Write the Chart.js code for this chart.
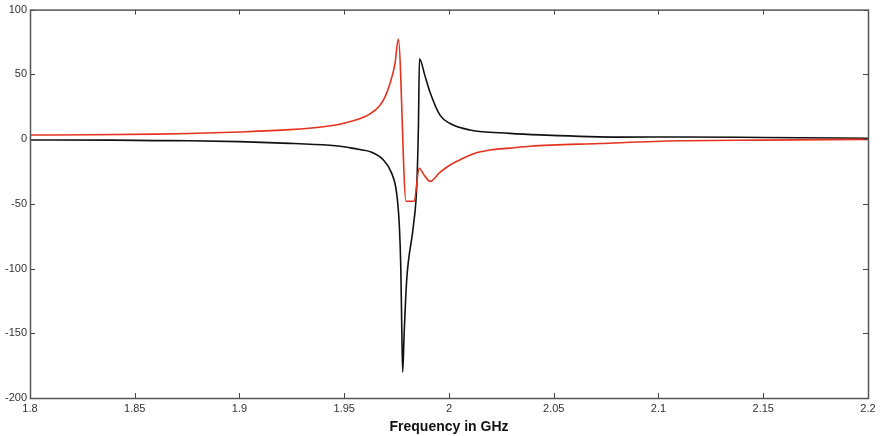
<!DOCTYPE html>
<html>
<head>
<meta charset="utf-8">
<script src="https://cdn.jsdelivr.net/npm/chart.js@4/dist/chart.umd.min.js"></script>
<style>
	body { margin: 0; background: #fff; }
	#wrap { width: 881px; height: 436px; }
</style>
</head>
<body>
<div id="wrap"><canvas id="chart-resp" width="881" height="436"></canvas></div>
<script>
// red trace (frequency in GHz / value)
const redFreq = [1.80, 1.83, 1.86, 1.876, 1.90, 1.924, 1.94, 1.948, 1.953, 1.958, 1.9623, 1.9665, 1.9693, 1.9718, 1.9742, 1.9758,
	1.9795, 1.9833, 1.9858, 1.988, 1.991, 1.9955, 2.0005, 2.0053, 2.0115, 2.0196, 2.029, 2.0387, 2.072, 2.11, 2.15, 2.2]
const redVals = [3.1, 3.3, 3.8, 4.3, 5.5, 7.3, 9.5, 11.5, 13.5, 16, 19.5, 25, 32, 42.8, 58, 77.3,
	-48, -48, -22.5, -27.5, -32.7, -26, -20, -16, -11.5, -8.5, -7, -5.5, -3.4, -1.3, -0.8, -0.2]

// black trace
const blackFreq = [1.80, 1.84, 1.86, 1.876, 1.90, 1.924, 1.943, 1.948, 1.953, 1.958, 1.9623, 1.9686, 1.9726, 1.975, 1.9763,
	1.977, 1.9775, 1.9779, 1.9786, 1.9798, 1.983, 1.9846, 1.9854, 1.9859, 1.9885, 1.9909, 1.9957, 2.0005,
	2.01, 2.029, 2.0434, 2.0816, 2.11, 2.15, 2.2]
const blackVals = [-0.7, -0.8, -1.2, -1.3, -2, -3.3, -4.8, -5.5, -6.8, -8.3, -9.7, -16, -26.3, -41.7, -67,
	-100, -150, -180, -150, -109, -67, -36.6, 9.5, 62, 49, 36.4, 18.5, 12,
	7, 4.4, 3.2, 1.5, 1.6, 1.2, 0.6]

const xTicks = [1.8, 1.85, 1.9, 1.95, 2, 2.05, 2.1, 2.15, 2.2]
const yTicks = [-200, -150, -100, -50, 0, 50, 100]

const tickFont = { family: 'Liberation Sans, Arial, sans-serif', size: 11 }

// MATLAB style: short tick marks drawn inwards on all four sides
const inwardTicks = {
	id: 'inwardTicks',
	afterDraw(chart) {
		const ctx = chart.ctx
		const a = chart.chartArea
		const len = 5
		ctx.save()
		ctx.strokeStyle = '#444'
		ctx.lineWidth = 1
		ctx.beginPath()
		xTicks.forEach(v => {
			let px = Math.round(chart.scales.x.getPixelForValue(v)) + 0.5
			ctx.moveTo(px, a.bottom); ctx.lineTo(px, a.bottom - len)
			ctx.moveTo(px, a.top); ctx.lineTo(px, a.top + len)
		})
		yTicks.forEach(v => {
			let py = Math.round(chart.scales.y.getPixelForValue(v)) + 0.5
			ctx.moveTo(a.left, py); ctx.lineTo(a.left + len, py)
			ctx.moveTo(a.right, py); ctx.lineTo(a.right - len, py)
		})
		ctx.stroke()
		// frame
		ctx.strokeStyle = '#555'
		ctx.lineWidth = 1.5
		ctx.strokeRect(a.left + 0.5, a.top + 0.5, a.right - a.left, a.bottom - a.top)
		ctx.restore()
	}
}

document.addEventListener('DOMContentLoaded', function() {
	let elem = document.getElementById('chart-resp').getContext('2d')
	new Chart(elem, {
		type: 'line',
		data: {
			datasets: [
				{
					data: redFreq.map((f, i) => ({ x: f, y: redVals[i] })),
					borderColor: '#e5321e',
					borderWidth: 1.6,
					pointRadius: 0,
					cubicInterpolationMode: 'monotone'
				},
				{
					data: blackFreq.map((f, i) => ({ x: f, y: blackVals[i] })),
					borderColor: '#111',
					borderWidth: 1.6,
					pointRadius: 0,
					cubicInterpolationMode: 'monotone'
				}
			]
		},
		options: {
			responsive: false,
			animation: false,
			devicePixelRatio: 1,
			layout: { padding: { top: 7, right: 13, left: 0, bottom: 0 } },
			plugins: { legend: { display: false }, tooltip: { enabled: false } },
			scales: {
				x: {
					type: 'linear',
					min: 1.8,
					max: 2.2,
					afterBuildTicks: scale => { scale.ticks = xTicks.map(v => ({ value: v })) },
					afterFit: scale => { scale.height = 38 },
					grid: { display: false, drawTicks: false },
					border: { display: false },
					ticks: {
						font: tickFont,
						color: '#333',
						padding: 4,
						maxRotation: 0,
						callback: v => String(+v.toFixed(2))
					},
					title: {
						display: true,
						text: 'Frequency in GHz',
						font: { family: 'Liberation Sans, Arial, sans-serif', size: 14, weight: 'bold' },
						color: '#111',
						padding: { top: 0, bottom: 0 }
					}
				},
				y: {
					min: -200,
					max: 100,
					afterBuildTicks: scale => { scale.ticks = yTicks.map(v => ({ value: v })) },
					afterFit: scale => { scale.width = 30 },
					grid: { display: false, drawTicks: false },
					border: { display: false },
					ticks: { font: tickFont, color: '#333', padding: 3 }
				}
			}
		},
		plugins: [inwardTicks]
	})
})
</script>
</body>
</html>
